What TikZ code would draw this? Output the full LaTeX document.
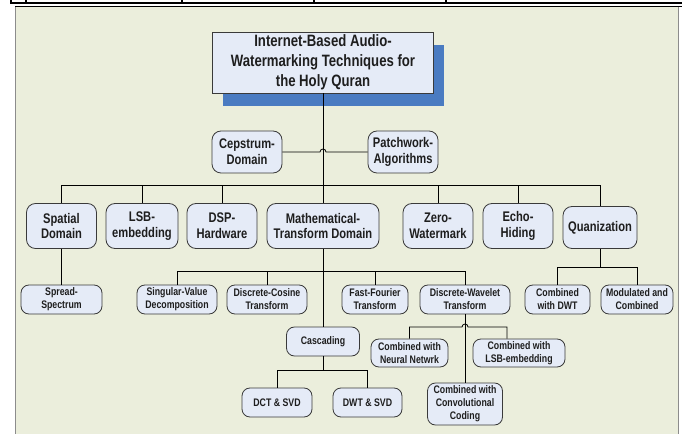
\documentclass[tikz,border=0pt]{standalone}
\usepackage{fontspec}
\setmainfont{Liberation Sans}[FakeStretch=0.8]
\usetikzlibrary{positioning,calc,shadows}
\definecolor{panelfill}{HTML}{EBEEDC}
\definecolor{panelline}{HTML}{8C8C8C}
\definecolor{boxfill}{HTML}{E5EBF7}
\definecolor{boxline}{HTML}{3A3A3A}
\definecolor{boxtext}{HTML}{1E1E1E}
\definecolor{shadowblue}{HTML}{4A7BC1}

\begin{document}
\begin{tikzpicture}[x=1bp,y=-1bp,node distance=1cm,on grid,
  box/.style={draw=boxline,fill=boxfill,line width=0.8bp,align=center,inner sep=0pt,text=boxtext},
  rootbox/.style={box,font=\bfseries\fontsize{16.5}{20}\selectfont,minimum width=221bp,minimum height=61bp,
    general shadow={fill=shadowblue,shadow xshift=10bp,shadow yshift=-13bp}},
  bigbox/.style={box,rounded corners=9bp,font=\bfseries\fontsize{14}{15.7}\selectfont,minimum width=70bp,minimum height=45bp},
  smallbox/.style={box,rounded corners=8bp,font=\bfseries\fontsize{11}{13}\selectfont,minimum width=80bp,minimum height=29bp},
  link/.style={draw=black,line width=0.8bp}]
\useasboundingbox (0,0) rectangle (682,434);
\fill[panelfill] (15,7) rectangle (679,440);
\draw[panelline,line width=1.5bp] (15.7,7) -- (15.7,440) (678.3,7) -- (678.3,440);
\draw[line width=2.4bp] (10,3.2) -- (682,3.2);
\foreach \x in {11,26,182,314,446} \draw[line width=1.5bp] (\x,0) -- (\x,3);
\draw[line width=0.9bp] (15,6.6) -- (682,6.6);

\node[rootbox](n_root) at (323,62.5){Internet-Based Audio-\\Watermarking Techniques for\\the Holy Quran};
\node[bigbox,minimum height=42bp](n_cep) at (247,152){Cepstrum-\\Domain};
\node[bigbox,minimum height=42bp](n_pat)[right=156bp of n_cep]{Patchwork-\\Algorithms};
\node[bigbox](n_sp) at (61.5,226){Spatial\\Domain};
\node[bigbox,minimum width=72bp](n_lsb) at (142,226){LSB-\\embedding};
\node[bigbox](n_dsp) at (222,226){DSP-\\Hardware};
\node[bigbox,minimum width=112bp](n_mat) at (323,226){Mathematical-\\Transform Domain};
\node[bigbox](n_zero) at (438,226){Zero-\\Watermark};
\node[bigbox](n_echo) at (518,226){Echo-\\Hiding};
\node[bigbox,minimum width=74bp,minimum height=42bp](n_quan) at (600,227.5){Quanization};
\node[smallbox,minimum width=81bp](n_ss)[below=73.5bp of n_sp]{Spread-\\Spectrum};
\node[smallbox](n_svd) at (177,299.5){Singular-Value\\Decomposition};
\node[smallbox](n_dct) at (267,299.5){Discrete-Cosine\\Transform};
\node[smallbox,minimum width=66bp](n_fft) at (375,299.5){Fast-Fourier\\Transform};
\node[smallbox,minimum width=90bp](n_dwt) at (465,299.5){Discrete-Wavelet\\Transform};
\node[smallbox,minimum width=65bp](n_cdwt) at (557.5,299.5){Combined\\with DWT};
\node[smallbox,minimum width=72bp](n_mod)[right=79.5bp of n_cdwt]{Modulated and\\Combined};
\node[smallbox,minimum width=73bp](n_cas) at (323,341.5){Cascading};
\node[smallbox,minimum width=70bp](n_dctsvd) at (277,402.5){DCT \& SVD};
\node[smallbox,minimum width=69bp](n_dwtsvd)[right=90.5bp of n_dctsvd]{DWT \& SVD};
\node[smallbox,minimum width=77bp,minimum height=28bp](n_nn) at (409.5,353){Combined with\\Neural Netwrk};
\node[smallbox,minimum width=92bp,minimum height=28bp](n_lsbe) at (519,353){Combined with\\LSB-embedding};
\node[smallbox,minimum width=75bp,minimum height=42bp](n_conv) at (465,404){Combined with\\Convolutional\\Coding};

\coordinate(b_top) at (323,185);
\coordinate(b_mat) at (323,271);
\coordinate(b_cas) at (323,370);
\coordinate(b_quan) at (600,267);
\coordinate(b_dwt) at (465,327);

\path[link] (n_root.south) -- (b_top);
\path[link] (n_cep.east) -- ($(n_cep.east -| b_top)+(-3,0)$) arc(180:0:3bp) -- (n_pat.west);
\foreach \c in {n_sp,n_lsb,n_dsp,n_mat,n_zero,n_echo,n_quan} \path[link] (b_top) -| (\c.north);
\path[link] (n_sp.south) -- (n_ss.north);
\path[link] (n_mat.south) -- (n_cas.north);
\foreach \c in {n_svd,n_dct,n_fft,n_dwt} \path[link] (b_mat) -| (\c.north);
\path[link] (n_cas.south) -- (b_cas);
\foreach \c in {n_dctsvd,n_dwtsvd} \path[link] (b_cas) -| (\c.north);
\path[link] (n_quan.south) -- (b_quan);
\foreach \c in {n_cdwt,n_mod} \path[link] (b_quan) -| (\c.north);
\path[link] (n_dwt.south) -- (n_conv.north);
\path[link] (n_nn.north) |- ($(b_dwt)+(-3,0)$) arc(180:0:3bp) -| ([xshift=-12bp]n_lsbe.north);
\end{tikzpicture}
\end{document}
